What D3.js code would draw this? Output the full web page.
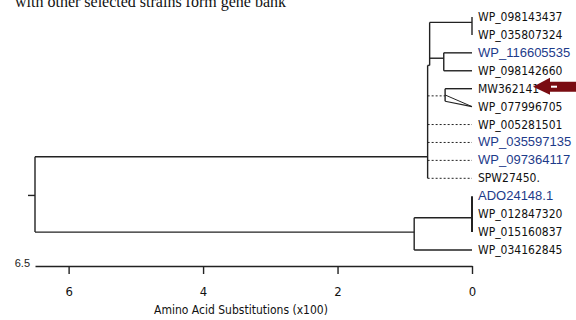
<!DOCTYPE html>
<html>
<head>
<meta charset="utf-8">
<script src="https://cdn.jsdelivr.net/npm/d3@7"></script>
<style>
  body { margin: 0; background: #fff; }
  svg { display: block; }
</style>
</head>
<body>
<svg id="chart" width="576" height="320"></svg>
<script>
// leaf labels, top to bottom
const leaves = [
  'WP_098143437', 'WP_035807324', 'WP_116605535', 'WP_098142660',
  'MW362141', 'WP_077996705', 'WP_005281501', 'WP_035597135',
  'WP_097364117', 'SPW27450.', 'ADO24148.1', 'WP_012847320',
  'WP_015160837', 'WP_034162845'
];
// labels that show up as blue link text
const blueLeaves = ['WP_116605535', 'WP_035597135', 'WP_097364117', 'ADO24148.1'];

// internal nodes: distance from tips (x100 substitutions) and row (leaf index units)
const nodeIds = ['P1', 'P2', 'A', 'B', 'C', 'E', 'D', 'root'];
const nodeDist = [0.0, 0.42, 0.63, 0.40, 0.66, 0.0, 0.86, 6.5];
const nodeRow = [0.3, 2.3, 2.7, 4.4, 7.8, 11.2, 12.0, 9.9];
const nodeKids = [
  ['WP_098143437', 'WP_035807324'],
  ['WP_116605535', 'WP_098142660'],
  ['P1', 'P2'],
  ['MW362141', 'WP_077996705'],
  ['A', 'B', 'WP_005281501', 'WP_035597135', 'WP_097364117', 'SPW27450.'],
  ['ADO24148.1', 'WP_012847320', 'WP_015160837'],
  ['E', 'WP_034162845'],
  ['C', 'D']
];
// branches drawn dotted (parent -> child)
const dottedEdges = ['C>B', 'C>WP_005281501', 'C>WP_035597135', 'C>WP_097364117', 'C>SPW27450.'];

const tickVals = [6, 4, 2, 0];
const axisTitle = 'Amino Acid Substitutions (x100)';
const caption = 'with other selected strains form gene bank';

const svg = d3.select('#chart');
const x = d3.scaleLinear().domain([6.5, 0]).range([35, 472]);
const y = d3.scaleLinear().domain([0, leaves.length - 1]).range([17, 250]);

const narrow = 'Liberation Sans Narrow, DejaVu Sans Condensed, sans-serif';

// lookup of positions for every node and leaf
const pos = {};
leaves.forEach((l, i) => { pos[l] = { x: x(0), y: y(i) }; });
nodeIds.forEach((id, i) => { pos[id] = { x: x(nodeDist[i]), y: y(nodeRow[i]) }; });

const lineCol = '#222';
const tree = svg.append('g').attr('fill', 'none').attr('stroke', lineCol).attr('stroke-width', 1.4);

nodeIds.forEach((id, i) => {
  const p = pos[id];
  const kids = nodeKids[i];
  const ys = kids.map(k => pos[k].y);
  let y0 = d3.min(ys), y1 = d3.max(ys);
  if (id === 'B') y1 = y(4.7);
  // vertical connector
  tree.append('line')
    .attr('x1', p.x).attr('x2', p.x)
    .attr('y1', Math.min(y0, p.y)).attr('y2', Math.max(y1, p.y))
    .attr('stroke-width', id === 'E' ? 2 : 1.4);
  // horizontal branches to children
  kids.forEach((k, j) => {
    const c = pos[k];
    const dotted = dottedEdges.includes(id + '>' + k);
    if (id === 'B' && j === 1) {
      // collapsed-looking slant to the second tip
      tree.append('line').attr('x1', p.x).attr('y1', y(4.35)).attr('x2', c.x).attr('y2', c.y).attr('stroke-width', 1);
      tree.append('line').attr('x1', p.x).attr('y1', y(4.7)).attr('x2', c.x).attr('y2', c.y).attr('stroke-width', 1.2);
      return;
    }
    tree.append('line')
      .attr('x1', p.x).attr('x2', c.x)
      .attr('y1', c.y).attr('y2', c.y)
      .attr('stroke-width', dotted ? 1 : 1.4)
      .attr('stroke-dasharray', dotted ? '2,2' : null);
  });
});

// little stub left of the root
const rootP = pos['root'];
tree.append('line').attr('x1', rootP.x - 7).attr('x2', rootP.x).attr('y1', rootP.y + 1).attr('y2', rootP.y + 1);

// leaf labels
svg.append('g').selectAll('text')
  .data(leaves)
  .join('text')
  .attr('x', x(0) + 6)
  .attr('y', (d, i) => y(i) + 4)
  .attr('font-family', d => blueLeaves.includes(d) ? 'Liberation Sans, Arial, sans-serif' : narrow)
  .attr('font-size', d => blueLeaves.includes(d) ? 13 : 12)
  .attr('fill', d => blueLeaves.includes(d) ? '#1d3b8a' : '#111')
  .text(d => d);

// red arrow pointing at MW362141
const ay = pos['MW362141'].y - 2;
svg.append('path')
  .attr('d', `M533,${ay} L550,${ay - 9} L550,${ay - 5} L576,${ay - 5} L576,${ay + 5} L550,${ay + 5} L550,${ay + 8} Z`)
  .attr('fill', '#7a0c12');
svg.append('rect').attr('x', 551).attr('y', ay - 1).attr('width', 6).attr('height', 2).attr('fill', '#fff');

// axis
const axisY = 266;
const axis = svg.append('g')
  .attr('transform', `translate(0,${axisY})`)
  .call(d3.axisBottom(x).tickValues(tickVals).tickSize(8).tickSizeOuter(0).tickPadding(13).tickFormat(d3.format('d')));
axis.select('.domain').attr('stroke', lineCol).attr('stroke-width', 1.4);
axis.selectAll('.tick line').attr('stroke', lineCol).attr('stroke-width', 1.4);
axis.selectAll('.tick text')
  .attr('font-family', narrow)
  .attr('font-size', 13).attr('fill', '#111');

svg.append('text')
  .attr('x', x(6.5) - 5).attr('y', axisY + 1)
  .attr('text-anchor', 'end')
  .attr('font-family', 'Liberation Sans, Arial, sans-serif')
  .attr('font-size', 11).attr('fill', '#222')
  .text('6.5');

svg.append('text')
  .attr('x', 241).attr('y', 314)
  .attr('text-anchor', 'middle')
  .attr('font-family', narrow)
  .attr('font-size', 12).attr('fill', '#111')
  .text(axisTitle);

svg.append('text')
  .attr('x', 15).attr('y', 7)
  .attr('font-family', 'Liberation Serif, Times New Roman, serif')
  .attr('font-size', 16).attr('fill', '#111')
  .text(caption);
</script>
</body>
</html>
